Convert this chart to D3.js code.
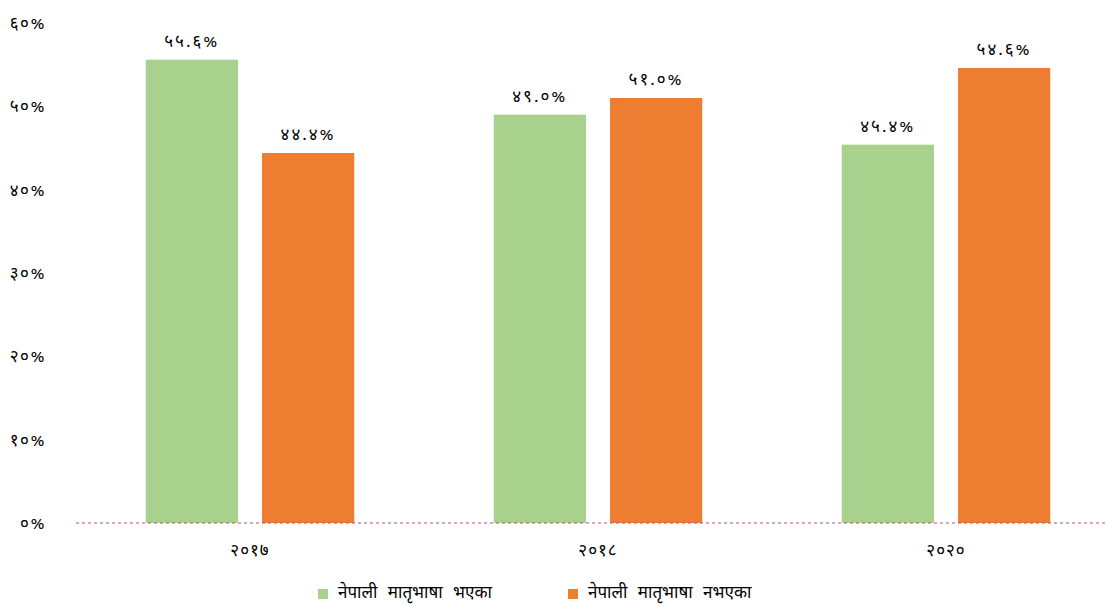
<!DOCTYPE html>
<html>
<head>
<meta charset="utf-8">
<script src="https://cdn.jsdelivr.net/npm/d3@7"></script>
<style>
  body { margin: 0; background: #fff; }
  text { font-family: "Noto Sans Devanagari", "Lohit Devanagari", "Noto Sans", sans-serif; fill: #000; font-weight: normal; }
</style>
</head>
<body>
<script>
// data
const years = ["2017", "2018", "2020"];
const seriesNames = ["नेपाली मातृभाषा भएका", "नेपाली मातृभाषा नभएका"];
const withNepali = [55.6, 49.0, 45.4];
const withoutNepali = [44.4, 51.0, 54.6];
const yTicks = [0, 10, 20, 30, 40, 50, 60];
const colors = ["#a9d18e", "#ed7d31"];

const W = 1107, H = 606;
const deva = "०१२३४५६७८९";
const toDeva = s => String(s).replace(/[0-9]/g, d => deva[+d]);

const svg = d3.select("body").append("svg")
    .attr("width", W)
    .attr("height", H);

let y = d3.scaleLinear().domain([0, 60]).range([523, 23]);
let x0 = d3.scaleBand().domain(years).range([76, 1120]);
let x1 = d3.scaleBand().domain([0, 1])
    .range([0, x0.bandwidth()])
    .paddingInner(0.207)
    .paddingOuter(0.6);

// y labels (no axis line)
svg.append("g").selectAll("text")
    .data(yTicks)
    .enter().append("text")
    .attr("x", 46)
    .attr("y", d => y(d) + 6)
    .attr("text-anchor", "end")
    .style("font-size", "17px")
    .style("letter-spacing", "1.5px")
    .text(d => toDeva(d) + "%");

// bars
let rows = years.map((yr, i) => ({year: yr, vals: [withNepali[i], withoutNepali[i]]}));

let grp = svg.selectAll(".grp")
    .data(rows)
    .enter().append("g")
    .attr("class", "grp")
    .attr("transform", d => "translate(" + x0(d.year) + ",0)");

grp.selectAll("rect")
    .data(d => d.vals.map((v, k) => ({k: k, v: v})))
    .enter().append("rect")
    .attr("x", d => x1(d.k))
    .attr("width", x1.bandwidth())
    .attr("y", d => y(d.v))
    .attr("height", d => y(0) - y(d.v))
    .attr("fill", d => colors[d.k]);

grp.selectAll(".lbl")
    .data(d => d.vals.map((v, k) => ({k: k, v: v})))
    .enter().append("text")
    .attr("class", "lbl")
    .attr("x", d => x1(d.k) + x1.bandwidth() / 2)
    .attr("y", d => y(d.v) - 13)
    .attr("text-anchor", "middle")
    .style("font-size", "17px")
    .style("letter-spacing", "2px")
    .text(d => toDeva(d.v.toFixed(1)) + "%");

// baseline
svg.append("line")
    .attr("x1", 76).attr("x2", W)
    .attr("y1", y(0)).attr("y2", y(0))
    .attr("stroke", "#b0507a")
    .attr("stroke-width", 1)
    .attr("stroke-dasharray", "3,3");

// year labels
svg.append("g").selectAll("text")
    .data(years)
    .enter().append("text")
    .attr("x", d => x0(d) + x0.bandwidth() / 2)
    .attr("y", 556)
    .attr("text-anchor", "middle")
    .style("font-size", "17px")
    .style("letter-spacing", "1px")
    .text(d => toDeva(d));

// legend
let legX = [318, 568];
let leg = svg.selectAll(".leg")
    .data(seriesNames)
    .enter().append("g")
    .attr("class", "leg")
    .attr("transform", (d, i) => "translate(" + legX[i] + ",589)");
leg.append("rect")
    .attr("width", 10).attr("height", 10)
    .attr("fill", (d, i) => colors[i]);
leg.append("text")
    .attr("x", 20)
    .attr("y", 9)
    .style("font-size", "17px")
    .style("word-spacing", "6px")
    .text(d => d);
</script>
</body>
</html>
